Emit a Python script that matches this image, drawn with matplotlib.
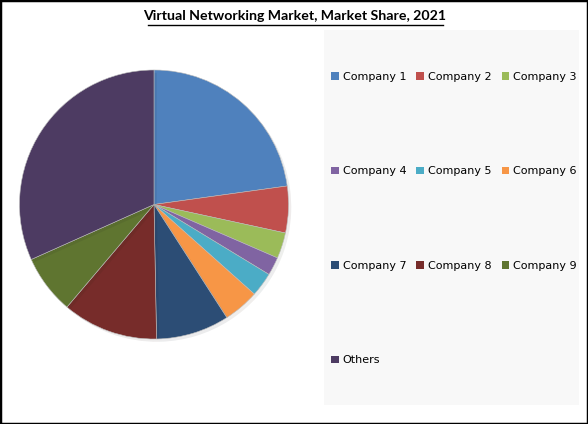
import matplotlib.pyplot as plt
from matplotlib.patches import Rectangle
import matplotlib.patheffects as pe

# Data (share in %)
companies = ['Company 1', 'Company 2', 'Company 3', 'Company 4', 'Company 5',
             'Company 6', 'Company 7', 'Company 8', 'Company 9', 'Others']
shares = [22.8, 5.6, 3.1, 2.2, 2.9, 4.3, 8.8, 11.5, 7.1, 31.7]
colors = ['#4F81BD', '#C0504D', '#9BBB59', '#8064A2', '#4BACC6',
          '#F79646', '#2C4D75', '#772C2A', '#5F7530', '#4D3B62']
title = 'Virtual Networking Market, Market Share, 2021'

W, H = 588, 424
fig = plt.figure(figsize=(W / 100, H / 100), dpi=100)

# outer black frame
fig.patches.append(Rectangle((0, 0), 1, 1, transform=fig.transFigure,
                             fill=False, edgecolor='black', linewidth=2.5))

# legend background panel
x0, y0, x1, y1 = 324, 30, 579, 405
fig.patches.append(Rectangle((x0 / W, 1 - y1 / H), (x1 - x0) / W, (y1 - y0) / H,
                             transform=fig.transFigure, facecolor='#F8F8F8',
                             edgecolor='none', zorder=0))

# pie axes: center (154, 204.5), radius 134.5 px
cx, cy, r = 154, 204.5, 134.5
ax = fig.add_axes([(cx - r) / W, 1 - (cy + r) / H, 2 * r / W, 2 * r / H])
wedges, _ = ax.pie(shares, colors=colors, startangle=90, counterclock=False,
                   radius=1, wedgeprops=dict(edgecolor='#BBBBBB', linewidth=0.4))
for w in wedges:
    w.set_path_effects([pe.SimplePatchShadow(offset=(2, -2), alpha=0.08), pe.Normal()])
ax.set_xlim(-1, 1)
ax.set_ylim(-1, 1)
ax.set_aspect('equal')
ax.axis('off')

# title (bold, underlined)
fig.text(295 / W, 1 - 16 / H, title, ha='center', va='center',
         fontsize=10.2, fontweight='bold', family='Lato')
fig.add_artist(plt.Line2D([148 / W, 443 / W], [1 - 25 / H, 1 - 25 / H],
                          color='black', linewidth=1))

# legend, filled row by row
order = [0, 3, 6, 9, 1, 4, 7, 2, 5, 8]
handles = [Rectangle((0, 0), 1, 1, facecolor=colors[i]) for i in order]
fig.legend(handles, [companies[i] for i in order],
           ncol=3, loc='upper left', bbox_to_anchor=(331 / W, 1 - 72 / H),
           frameon=False, fontsize=8, labelspacing=7.6, handlelength=0.7,
           handleheight=0.7, handletextpad=0.35, columnspacing=0.9,
           borderpad=0, borderaxespad=0)

fig.savefig('out.png', dpi=100)
